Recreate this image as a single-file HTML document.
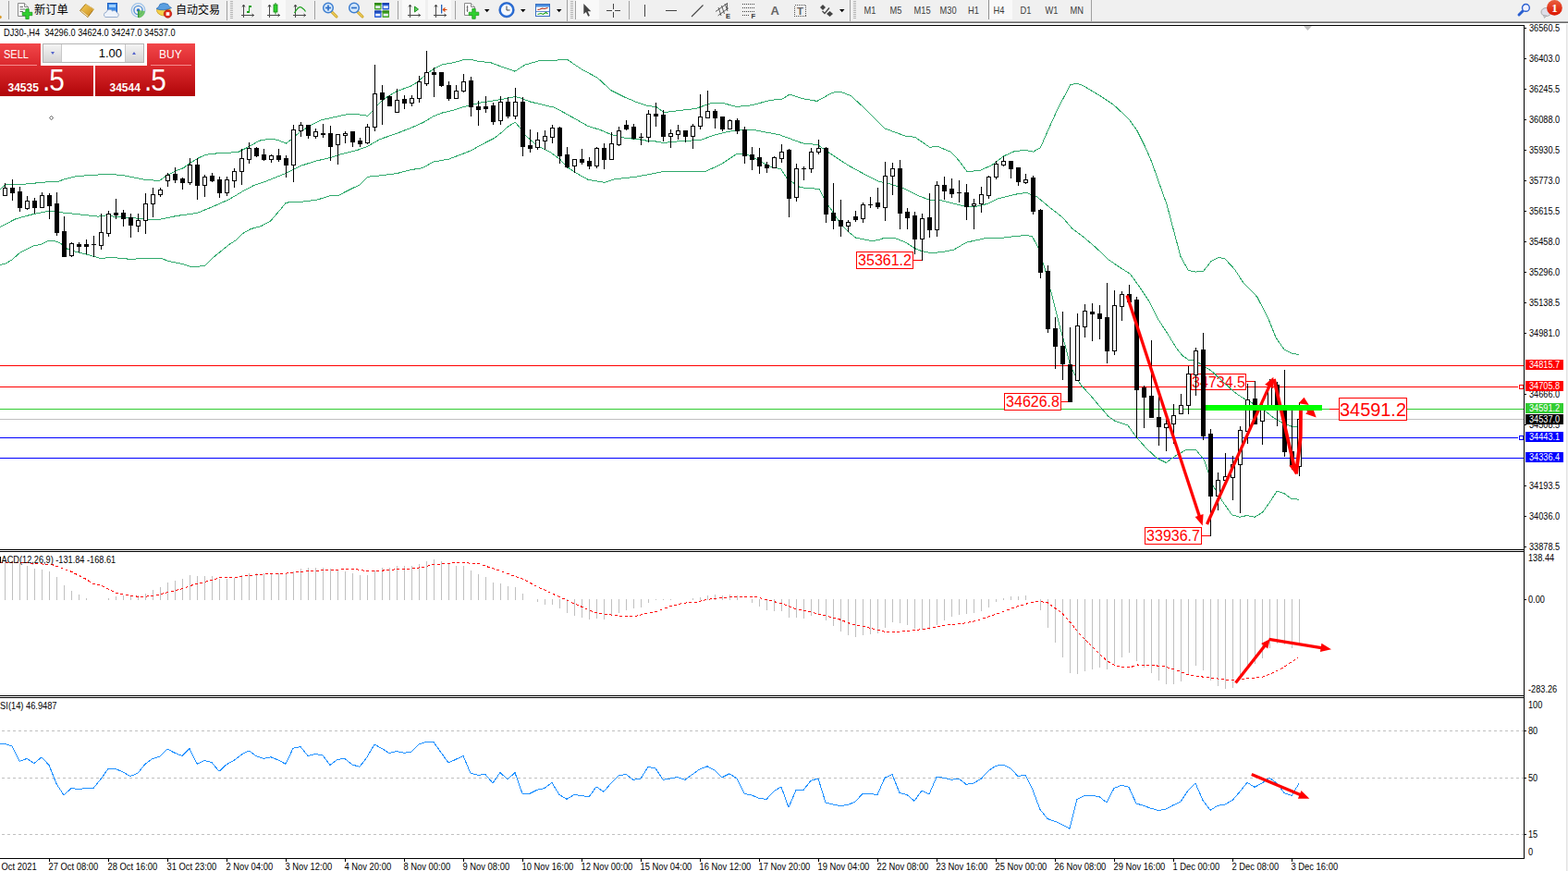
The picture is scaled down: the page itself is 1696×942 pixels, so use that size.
<!DOCTYPE html>
<html><head><meta charset="utf-8"><title>DJ30 H4</title>
<style>html,body{margin:0;padding:0;background:#fff}body{width:1696px;height:942px;position:relative;overflow:hidden;font-family:"Liberation Sans",sans-serif}</style>
</head><body>
<svg width="1696" height="942" viewBox="0 0 1696 942" style="position:absolute;left:0;top:0" font-family='"Liberation Sans", sans-serif'>
<rect x="0" y="25" width="1696" height="917" fill="#fff"/>
<g shape-rendering="crispEdges">
<rect x="0" y="395" width="1648" height="1" fill="#ff0000"/>
<rect x="0" y="418" width="1642" height="1" fill="#ff0000"/>
<rect x="0" y="442" width="1648" height="1" fill="#32cd32"/>
<rect x="0" y="453" width="1648" height="1" fill="#c0c0c0"/>
<rect x="0" y="473" width="1642" height="1" fill="#0000ff"/>
<rect x="0" y="495" width="1648" height="1" fill="#0000ff"/>
<rect x="1643.5" y="416.5" width="4" height="4" fill="#fff" stroke="#ff0000" stroke-width="1"/>
<rect x="1643.5" y="471.5" width="4" height="4" fill="#fff" stroke="#0000ff" stroke-width="1"/>
</g>
<g shape-rendering="crispEdges" stroke="#c0c0c0" stroke-width="1" stroke-dasharray="3,3">
<line x1="2" y1="790.5" x2="1648" y2="790.5"/>
<line x1="2" y1="841.5" x2="1648" y2="841.5"/>
<line x1="2" y1="902.5" x2="1648" y2="902.5"/>
</g>
<rect x="1288.5" y="404.5" width="59" height="17" fill="#fff" stroke="#ff0000" stroke-width="1" shape-rendering="crispEdges"/><text x="1318.0" y="413.0" font-size="16" fill="#ff0000" text-anchor="middle" dominant-baseline="central" font-family='"Liberation Sans", sans-serif'>34734.5</text>
<path d="M1348,412.5H1357.5" stroke="#ff0000" stroke-width="1" fill="none" shape-rendering="crispEdges"/>
<g shape-rendering="crispEdges" fill="#c0c0c0">
<rect x="5" y="607" width="1" height="42"/>
<rect x="13" y="608" width="1" height="41"/>
<rect x="21" y="609" width="1" height="40"/>
<rect x="29" y="612" width="1" height="37"/>
<rect x="37" y="615" width="1" height="34"/>
<rect x="45" y="616" width="1" height="33"/>
<rect x="53" y="618" width="1" height="31"/>
<rect x="61" y="624" width="1" height="25"/>
<rect x="69" y="633" width="1" height="16"/>
<rect x="77" y="639" width="1" height="10"/>
<rect x="85" y="643" width="1" height="6"/>
<rect x="93" y="647" width="1" height="2"/>
<rect x="117" y="647" width="1" height="2"/>
<rect x="125" y="645" width="1" height="4"/>
<rect x="133" y="644" width="1" height="5"/>
<rect x="141" y="644" width="1" height="5"/>
<rect x="149" y="644" width="1" height="5"/>
<rect x="157" y="642" width="1" height="7"/>
<rect x="165" y="638" width="1" height="11"/>
<rect x="173" y="635" width="1" height="14"/>
<rect x="181" y="630" width="1" height="19"/>
<rect x="189" y="628" width="1" height="21"/>
<rect x="197" y="626" width="1" height="23"/>
<rect x="205" y="622" width="1" height="27"/>
<rect x="213" y="623" width="1" height="26"/>
<rect x="221" y="623" width="1" height="26"/>
<rect x="229" y="623" width="1" height="26"/>
<rect x="237" y="626" width="1" height="23"/>
<rect x="245" y="626" width="1" height="23"/>
<rect x="253" y="625" width="1" height="24"/>
<rect x="261" y="622" width="1" height="27"/>
<rect x="269" y="620" width="1" height="29"/>
<rect x="277" y="620" width="1" height="29"/>
<rect x="285" y="620" width="1" height="29"/>
<rect x="293" y="620" width="1" height="29"/>
<rect x="301" y="620" width="1" height="29"/>
<rect x="309" y="620" width="1" height="29"/>
<rect x="317" y="618" width="1" height="31"/>
<rect x="325" y="615" width="1" height="34"/>
<rect x="333" y="614" width="1" height="35"/>
<rect x="341" y="614" width="1" height="35"/>
<rect x="349" y="614" width="1" height="35"/>
<rect x="357" y="615" width="1" height="34"/>
<rect x="365" y="617" width="1" height="32"/>
<rect x="373" y="618" width="1" height="31"/>
<rect x="381" y="620" width="1" height="29"/>
<rect x="389" y="622" width="1" height="27"/>
<rect x="397" y="622" width="1" height="27"/>
<rect x="405" y="617" width="1" height="32"/>
<rect x="413" y="614" width="1" height="35"/>
<rect x="421" y="614" width="1" height="35"/>
<rect x="429" y="612" width="1" height="37"/>
<rect x="437" y="612" width="1" height="37"/>
<rect x="445" y="612" width="1" height="37"/>
<rect x="453" y="610" width="1" height="39"/>
<rect x="461" y="607" width="1" height="42"/>
<rect x="469" y="605" width="1" height="44"/>
<rect x="477" y="607" width="1" height="42"/>
<rect x="485" y="610" width="1" height="39"/>
<rect x="493" y="612" width="1" height="37"/>
<rect x="501" y="612" width="1" height="37"/>
<rect x="509" y="617" width="1" height="32"/>
<rect x="517" y="621" width="1" height="28"/>
<rect x="525" y="624" width="1" height="25"/>
<rect x="533" y="630" width="1" height="19"/>
<rect x="541" y="631" width="1" height="18"/>
<rect x="549" y="634" width="1" height="15"/>
<rect x="557" y="635" width="1" height="14"/>
<rect x="565" y="642" width="1" height="7"/>
<rect x="581" y="648" width="1" height="3"/>
<rect x="589" y="648" width="1" height="6"/>
<rect x="597" y="648" width="1" height="6"/>
<rect x="605" y="648" width="1" height="10"/>
<rect x="613" y="648" width="1" height="15"/>
<rect x="621" y="648" width="1" height="18"/>
<rect x="629" y="648" width="1" height="20"/>
<rect x="637" y="648" width="1" height="22"/>
<rect x="645" y="648" width="1" height="21"/>
<rect x="653" y="648" width="1" height="22"/>
<rect x="661" y="648" width="1" height="18"/>
<rect x="669" y="648" width="1" height="15"/>
<rect x="677" y="648" width="1" height="12"/>
<rect x="685" y="648" width="1" height="10"/>
<rect x="693" y="648" width="1" height="9"/>
<rect x="701" y="648" width="1" height="4"/>
<rect x="709" y="648" width="1" height="1"/>
<rect x="717" y="648" width="1" height="1"/>
<rect x="725" y="648" width="1" height="1"/>
<rect x="749" y="647" width="1" height="2"/>
<rect x="757" y="646" width="1" height="3"/>
<rect x="765" y="644" width="1" height="5"/>
<rect x="773" y="643" width="1" height="6"/>
<rect x="781" y="644" width="1" height="5"/>
<rect x="789" y="643" width="1" height="6"/>
<rect x="797" y="644" width="1" height="5"/>
<rect x="813" y="648" width="1" height="4"/>
<rect x="821" y="648" width="1" height="8"/>
<rect x="829" y="648" width="1" height="12"/>
<rect x="837" y="648" width="1" height="13"/>
<rect x="845" y="648" width="1" height="13"/>
<rect x="853" y="648" width="1" height="20"/>
<rect x="861" y="648" width="1" height="20"/>
<rect x="869" y="648" width="1" height="21"/>
<rect x="877" y="648" width="1" height="18"/>
<rect x="885" y="648" width="1" height="16"/>
<rect x="893" y="648" width="1" height="23"/>
<rect x="901" y="648" width="1" height="29"/>
<rect x="909" y="648" width="1" height="35"/>
<rect x="917" y="648" width="1" height="39"/>
<rect x="925" y="648" width="1" height="41"/>
<rect x="933" y="648" width="1" height="39"/>
<rect x="941" y="648" width="1" height="38"/>
<rect x="949" y="648" width="1" height="37"/>
<rect x="957" y="648" width="1" height="31"/>
<rect x="965" y="648" width="1" height="25"/>
<rect x="973" y="648" width="1" height="26"/>
<rect x="981" y="648" width="1" height="28"/>
<rect x="989" y="648" width="1" height="32"/>
<rect x="997" y="648" width="1" height="33"/>
<rect x="1005" y="648" width="1" height="33"/>
<rect x="1013" y="648" width="1" height="28"/>
<rect x="1021" y="648" width="1" height="23"/>
<rect x="1029" y="648" width="1" height="19"/>
<rect x="1037" y="648" width="1" height="17"/>
<rect x="1045" y="648" width="1" height="16"/>
<rect x="1053" y="648" width="1" height="15"/>
<rect x="1061" y="648" width="1" height="13"/>
<rect x="1069" y="648" width="1" height="9"/>
<rect x="1077" y="648" width="1" height="3"/>
<rect x="1085" y="647" width="1" height="2"/>
<rect x="1093" y="645" width="1" height="4"/>
<rect x="1101" y="645" width="1" height="4"/>
<rect x="1109" y="644" width="1" height="5"/>
<rect x="1125" y="648" width="1" height="12"/>
<rect x="1133" y="648" width="1" height="31"/>
<rect x="1141" y="648" width="1" height="47"/>
<rect x="1149" y="648" width="1" height="63"/>
<rect x="1157" y="648" width="1" height="80"/>
<rect x="1165" y="648" width="1" height="81"/>
<rect x="1173" y="648" width="1" height="78"/>
<rect x="1181" y="648" width="1" height="76"/>
<rect x="1189" y="648" width="1" height="74"/>
<rect x="1197" y="648" width="1" height="76"/>
<rect x="1205" y="648" width="1" height="70"/>
<rect x="1213" y="648" width="1" height="63"/>
<rect x="1221" y="648" width="1" height="58"/>
<rect x="1229" y="648" width="1" height="67"/>
<rect x="1237" y="648" width="1" height="74"/>
<rect x="1245" y="648" width="1" height="80"/>
<rect x="1253" y="648" width="1" height="88"/>
<rect x="1261" y="648" width="1" height="92"/>
<rect x="1269" y="648" width="1" height="92"/>
<rect x="1277" y="648" width="1" height="89"/>
<rect x="1285" y="648" width="1" height="82"/>
<rect x="1293" y="648" width="1" height="72"/>
<rect x="1301" y="648" width="1" height="77"/>
<rect x="1309" y="648" width="1" height="88"/>
<rect x="1317" y="648" width="1" height="94"/>
<rect x="1325" y="648" width="1" height="97"/>
<rect x="1333" y="648" width="1" height="96"/>
<rect x="1341" y="648" width="1" height="87"/>
<rect x="1349" y="648" width="1" height="76"/>
<rect x="1357" y="648" width="1" height="70"/>
<rect x="1365" y="648" width="1" height="64"/>
<rect x="1373" y="648" width="1" height="53"/>
<rect x="1381" y="648" width="1" height="48"/>
<rect x="1389" y="648" width="1" height="49"/>
<rect x="1397" y="648" width="1" height="53"/>
<rect x="1405" y="648" width="1" height="47"/>
</g>
<polyline points="0.0,608.5 25.0,608.5 37.5,609.3 57.5,611.0 75.0,617.3 92.5,626.0 100.0,631.0 110.0,633.5 125.0,641.0 135.0,643.5 150.0,645.3 165.0,644.8 180.0,641.0 195.0,637.3 207.5,633.0 220.0,629.8 230.0,627.3 237.5,624.8 255.0,624.3 270.0,622.3 285.0,621.0 305.0,620.5 320.0,619.0 332.5,617.8 345.0,617.3 350.0,616.0 365.0,616.5 375.0,615.3 385.0,615.3 390.0,616.8 405.0,617.8 426.5,616.0 449.0,614.8 459.0,613.0 469.0,610.5 486.5,609.3 494.0,608.0 519.0,610.0 529.0,613.5 541.5,617.3 554.0,622.3 566.5,626.5 579.0,633.5 594.0,640.5 609.0,647.3 621.5,653.0 631.5,657.3 644.0,662.8 659.0,664.8 674.0,666.5 689.0,666.0 699.0,663.5 711.5,661.0 724.0,656.0 739.0,652.3 754.0,651.0 764.0,648.5 779.0,646.8 794.0,645.5 816.5,645.5 829.0,648.5 848.0,653.5 860.5,658.5 878.0,662.3 893.0,666.0 908.0,669.8 920.5,674.8 933.0,677.3 948.0,681.0 958.0,683.5 968.0,683.5 983.0,682.3 998.0,680.5 1013.0,678.0 1028.0,675.5 1043.0,674.0 1058.0,671.0 1068.0,667.3 1083.0,662.3 1098.0,656.5 1110.5,653.0 1123.0,650.5 1133.0,651.5 1140.5,657.3 1148.0,662.3 1158.0,673.5 1168.0,686.0 1180.5,698.5 1193.0,711.0 1203.0,718.5 1213.0,721.5 1223.0,721.5 1230.5,719.0 1245.5,719.3 1260.0,721.0 1272.5,724.8 1285.0,729.8 1302.5,732.3 1320.0,734.3 1335.0,736.0 1347.5,734.0 1365.0,732.3 1375.0,728.5 1387.5,722.3 1397.5,715.5 1403.8,711.5" fill="none" stroke="#ff0000" stroke-width="1" stroke-dasharray="3,2.5" shape-rendering="crispEdges"/>
<polyline points="0.0,805.0 5.0,804.3 13.0,807.0 21.0,823.3 29.0,820.5 37.0,825.5 45.0,818.8 53.0,827.5 61.0,847.5 69.0,860.0 77.0,852.5 85.0,853.5 93.0,852.5 101.0,852.5 109.0,842.5 117.0,831.5 125.0,831.5 133.0,835.0 141.0,839.5 149.0,836.3 157.0,826.3 165.0,820.5 173.0,818.3 181.0,810.0 189.0,814.3 197.0,817.5 205.0,809.5 213.0,826.3 221.0,822.5 229.0,824.5 237.0,834.3 245.0,826.8 253.0,822.5 261.0,816.3 269.0,811.8 277.0,817.5 285.0,820.5 293.0,818.8 301.0,822.0 309.0,826.3 317.0,809.3 325.0,807.5 333.0,817.5 341.0,815.5 349.0,816.8 357.0,827.5 365.0,821.3 373.0,820.5 381.0,827.0 389.0,829.3 397.0,818.8 405.0,805.0 413.0,809.5 421.0,814.5 429.0,812.5 437.0,814.3 445.0,813.3 453.0,805.0 461.0,802.5 469.0,802.5 477.0,813.8 485.0,825.0 493.0,821.3 501.0,817.5 509.0,836.3 517.0,838.3 525.0,837.5 533.0,847.0 541.0,835.5 549.0,843.0 557.0,835.5 565.0,858.3 573.0,858.3 581.0,854.3 589.0,852.5 597.0,846.5 605.0,859.5 613.0,864.3 621.0,859.5 629.0,860.5 637.0,862.0 645.0,850.8 653.0,856.3 661.0,847.0 669.0,838.8 677.0,837.5 685.0,843.3 693.0,842.0 701.0,829.5 709.0,830.8 717.0,843.3 725.0,842.0 733.0,840.5 741.0,843.5 749.0,837.5 757.0,831.8 765.0,828.8 773.0,833.0 781.0,840.8 789.0,836.8 797.0,842.0 805.0,858.3 813.0,860.0 821.0,863.3 829.0,864.5 837.0,855.8 845.0,850.8 853.0,873.3 861.0,854.5 869.0,854.5 877.0,844.3 885.0,842.0 893.0,868.0 901.0,870.0 909.0,871.5 917.0,870.5 925.0,867.0 933.0,858.5 941.0,858.5 949.0,859.5 957.0,841.3 965.0,837.5 973.0,857.5 981.0,859.5 989.0,866.3 997.0,855.0 1005.0,859.0 1013.0,840.3 1021.0,841.3 1029.0,843.3 1037.0,842.0 1045.0,848.3 1053.0,847.0 1061.0,842.5 1069.0,833.8 1077.0,828.3 1085.0,827.0 1093.0,830.8 1101.0,839.5 1109.0,838.3 1117.0,854.3 1125.0,875.5 1133.0,885.5 1141.0,888.3 1149.0,891.8 1157.0,896.3 1165.0,864.5 1173.0,860.5 1181.0,860.5 1189.0,861.5 1197.0,868.0 1205.0,852.5 1213.0,849.3 1221.0,851.3 1229.0,869.0 1237.0,871.3 1245.0,874.3 1253.0,876.5 1261.0,875.0 1269.0,870.8 1277.0,867.0 1285.0,855.0 1293.0,847.0 1301.0,865.5 1309.0,876.3 1317.0,871.3 1325.0,870.0 1333.0,865.5 1341.0,856.3 1349.0,846.3 1357.0,851.3 1365.0,847.0 1373.0,841.3 1381.0,847.0 1389.0,857.5 1397.0,860.5 1405.0,847.5" fill="none" stroke="#1e90ff" stroke-width="1" shape-rendering="crispEdges"/>
<polyline points="0.0,204.6 6.6,199.2 21.5,199.7 49.7,196.9 62.9,196.4 69.5,193.9 82.8,190.6 99.3,189.4 115.9,188.4 132.5,189.4 140.7,191.1 154.0,193.9 165.6,195.0 173.0,195.0 180.5,189.7 190.4,184.8 198.7,181.5 205.3,176.5 213.6,171.5 221.9,167.4 231.8,166.1 248.3,165.2 258.3,164.1 268.2,159.1 274.0,156.0 279.9,152.3 291.5,150.2 299.8,151.3 309.4,155.1 314.7,151.0 324.6,142.7 336.2,135.3 347.8,129.8 362.7,126.5 377.6,123.2 389.2,124.0 397.5,125.3 402.5,120.4 410.7,111.3 419.0,104.6 428.9,98.8 443.8,93.4 452.1,88.4 460.4,80.6 468.7,74.8 478.6,69.9 491.9,67.4 501.8,64.6 510.0,64.6 518.3,66.6 529.9,67.4 540.0,71.2 557.0,77.2 567.6,70.2 582.5,65.9 597.3,65.5 613.2,64.2 629.2,75.0 646.1,84.0 661.0,97.8 675.9,105.2 688.6,110.5 701.3,114.7 709.8,115.4 718.3,121.7 731.0,120.0 752.3,117.5 769.2,111.6 782.0,111.6 796.8,115.4 813.8,113.7 832.9,108.4 845.7,107.3 854.2,102.0 869.0,106.9 883.9,109.4 900.2,100.2 909.1,99.1 920.3,103.6 933.8,115.9 947.2,129.4 957.3,139.0 978.6,146.9 989.8,148.4 1005.5,159.2 1014.4,158.5 1027.9,164.1 1036.8,173.1 1045.8,185.4 1059.3,184.7 1072.7,178.7 1086.1,168.6 1097.3,163.7 1108.5,162.3 1117.5,164.1 1125.4,159.6 1133.2,141.7 1144.4,117.1 1157.8,91.7 1164.6,90.2 1171.3,92.4 1189.2,103.2 1204.9,113.7 1220.6,128.3 1229.5,140.6 1238.5,158.5 1245.6,174.9 1253.8,198.1 1262.1,221.3 1270.4,252.7 1277.0,277.5 1285.3,292.5 1293.6,294.1 1301.9,293.0 1310.1,282.5 1318.4,278.4 1325.0,280.0 1335.0,290.8 1344.9,305.7 1353.2,314.0 1360.0,321.5 1372.0,345.0 1380.0,365.0 1389.0,378.0 1397.0,382.0 1404.9,383.5" fill="none" stroke="#2fa96c" stroke-width="1" shape-rendering="crispEdges"/>
<polyline points="0.0,245.7 16.6,236.9 33.1,232.3 53.0,228.1 58.0,228.1 62.9,229.5 82.8,231.5 106.0,234.1 115.9,232.8 124.2,234.4 140.7,235.3 157.3,237.3 173.0,237.3 190.4,233.6 213.6,230.3 231.8,222.8 248.3,215.4 264.9,205.5 275.0,200.3 286.6,196.5 309.4,187.4 324.6,179.6 341.2,174.2 357.7,170.5 369.3,166.7 385.9,162.6 397.5,158.4 410.7,150.7 428.9,144.4 443.8,138.6 457.1,132.8 468.7,125.8 478.6,122.0 491.9,118.7 501.8,115.4 510.0,113.7 518.3,111.3 529.9,109.6 541.5,107.6 550.0,106.0 557.4,104.6 564.8,106.6 573.1,109.9 589.7,114.0 599.6,116.2 609.5,121.5 622.8,128.9 636.0,136.4 649.3,140.5 660.9,145.5 670.8,147.9 677.4,149.6 689.0,150.4 699.0,152.1 708.9,152.9 718.0,154.6 725.4,153.4 738.7,152.6 758.5,151.3 771.8,146.3 788.3,142.2 803.2,140.2 815.0,140.5 843.1,145.8 868.0,154.9 884.5,156.6 896.1,164.8 917.6,178.9 934.2,188.0 950.7,196.3 959.0,197.9 975.6,202.9 992.1,211.2 1005.4,216.2 1018.6,217.0 1041.8,222.8 1055.0,223.6 1068.3,220.3 1078.2,215.3 1096.6,210.5 1109.8,208.3 1121.4,212.6 1134.6,223.7 1149.5,235.3 1159.5,246.9 1172.7,256.9 1186.0,268.4 1199.2,280.9 1212.5,290.0 1222.4,296.2 1232.3,309.9 1242.3,324.8 1252.2,344.6 1262.1,359.5 1272.1,376.1 1278.7,384.4 1285.3,389.0 1293.6,390.2 1301.9,396.0 1310.1,400.9 1322.0,412.0 1335.0,424.1 1344.9,430.7 1360.0,439.0 1368.0,444.1 1377.1,451.6 1388.7,458.2 1397.0,461.2 1404.9,461.4" fill="none" stroke="#2fa96c" stroke-width="1" shape-rendering="crispEdges"/>
<polyline points="0.0,286.6 6.6,284.9 13.2,280.8 21.5,273.3 36.4,265.9 44.7,264.2 53.0,260.1 58.0,260.1 64.6,262.6 72.8,269.2 82.8,272.5 99.3,276.7 109.3,279.6 119.2,278.3 140.7,280.3 157.3,279.5 173.8,279.1 182.1,282.5 198.7,285.8 205.3,288.2 215.2,288.2 221.9,287.1 231.8,277.5 248.3,264.2 254.8,260.0 262.7,252.4 271.2,247.6 281.8,244.9 292.5,239.1 296.7,234.3 303.1,226.9 308.9,219.7 313.7,218.4 326.4,218.2 342.4,216.3 356.2,212.0 365.7,211.5 377.4,205.6 389.1,199.8 397.6,191.3 410.7,189.9 428.9,187.7 443.8,183.8 457.1,181.6 468.7,175.0 485.2,172.2 501.8,165.9 510.0,162.6 521.7,156.0 534.9,149.3 543.2,142.7 550.0,136.4 557.4,132.2 561.5,137.2 568.1,146.3 581.4,157.9 596.3,165.3 606.2,172.8 612.8,180.2 622.8,186.9 636.0,194.3 654.2,197.3 664.2,194.0 689.0,191.0 715.5,186.0 755.2,185.7 763.5,185.2 780.0,177.7 796.6,166.5 804.9,166.5 810.0,168.1 820.0,173.1 831.5,179.7 844.8,183.0 851.4,193.0 864.6,202.1 872.9,203.7 886.2,204.2 892.8,217.8 901.0,229.4 909.3,242.6 917.6,250.9 925.9,257.2 942.5,260.5 950.7,259.5 955.7,257.5 969.0,257.9 980.5,262.5 988.8,268.3 997.1,271.6 1005.4,273.3 1017.0,272.9 1031.9,270.0 1045.1,262.2 1066.6,257.5 1080.0,257.7 1096.6,255.7 1109.8,254.4 1116.4,255.7 1123.0,267.6 1129.7,289.1 1133.0,302.0 1137.1,316.5 1146.2,352.9 1152.8,376.1 1157.8,396.0 1162.8,405.9 1169.4,416.7 1179.3,427.4 1187.6,437.4 1194.2,444.8 1198.3,449.9 1206.6,455.7 1219.8,459.8 1228.1,471.4 1239.7,484.7 1251.3,495.4 1261.2,500.4 1272.8,492.1 1282.7,486.7 1293.5,486.3 1302.6,497.9 1307.5,512.8 1312.5,526.1 1322.5,542.6 1332.4,556.7 1340.7,559.2 1348.9,557.5 1357.2,559.2 1365.5,554.2 1373.8,542.6 1381.2,531.0 1388.7,533.5 1397.0,539.6 1404.9,540.1" fill="none" stroke="#2fa96c" stroke-width="1" shape-rendering="crispEdges"/>
<g shape-rendering="crispEdges">
<rect x="5" y="198" width="1" height="14" fill="#000"/>
<rect x="3.5" y="203.5" width="4" height="8" fill="#fff" stroke="#000" stroke-width="1"/>
<rect x="13" y="194" width="1" height="23" fill="#000"/>
<rect x="11" y="203" width="5" height="6" fill="#000"/>
<rect x="21" y="202" width="1" height="27" fill="#000"/>
<rect x="19" y="207" width="5" height="18" fill="#000"/>
<rect x="29" y="212" width="1" height="15" fill="#000"/>
<rect x="27.5" y="217.5" width="4" height="8" fill="#fff" stroke="#000" stroke-width="1"/>
<rect x="37" y="214" width="1" height="17" fill="#000"/>
<rect x="35" y="217" width="5" height="8" fill="#000"/>
<rect x="45" y="208" width="1" height="17" fill="#000"/>
<rect x="43.5" y="211.5" width="4" height="13" fill="#fff" stroke="#000" stroke-width="1"/>
<rect x="53" y="209" width="1" height="28" fill="#000"/>
<rect x="51" y="211" width="5" height="12" fill="#000"/>
<rect x="61" y="208" width="1" height="47" fill="#000"/>
<rect x="59" y="220" width="5" height="32" fill="#000"/>
<rect x="69" y="234" width="1" height="44" fill="#000"/>
<rect x="67" y="250" width="5" height="28" fill="#000"/>
<rect x="77" y="262" width="1" height="16" fill="#000"/>
<rect x="75.5" y="263.5" width="4" height="13" fill="#fff" stroke="#000" stroke-width="1"/>
<rect x="85" y="262" width="1" height="11" fill="#000"/>
<rect x="83" y="264" width="5" height="3" fill="#000"/>
<rect x="93" y="259" width="1" height="16" fill="#000"/>
<rect x="91" y="264" width="5" height="3" fill="#000"/>
<rect x="101" y="255" width="1" height="23" fill="#000"/>
<rect x="99" y="264" width="5" height="1" fill="#000"/>
<rect x="109" y="231" width="1" height="39" fill="#000"/>
<rect x="107.5" y="251.5" width="4" height="14" fill="#fff" stroke="#000" stroke-width="1"/>
<rect x="117" y="228" width="1" height="28" fill="#000"/>
<rect x="115.5" y="231.5" width="4" height="21" fill="#fff" stroke="#000" stroke-width="1"/>
<rect x="125" y="215" width="1" height="22" fill="#000"/>
<rect x="123" y="230" width="5" height="3" fill="#000"/>
<rect x="133" y="227" width="1" height="18" fill="#000"/>
<rect x="131" y="230" width="5" height="7" fill="#000"/>
<rect x="141" y="231" width="1" height="26" fill="#000"/>
<rect x="139" y="235" width="5" height="9" fill="#000"/>
<rect x="149" y="231" width="1" height="20" fill="#000"/>
<rect x="147.5" y="238.5" width="4" height="6" fill="#fff" stroke="#000" stroke-width="1"/>
<rect x="157" y="209" width="1" height="44" fill="#000"/>
<rect x="155.5" y="220.5" width="4" height="18" fill="#fff" stroke="#000" stroke-width="1"/>
<rect x="165" y="203" width="1" height="32" fill="#000"/>
<rect x="163.5" y="210.5" width="4" height="10" fill="#fff" stroke="#000" stroke-width="1"/>
<rect x="173" y="203" width="1" height="10" fill="#000"/>
<rect x="171.5" y="205.5" width="4" height="5" fill="#fff" stroke="#000" stroke-width="1"/>
<rect x="181" y="187" width="1" height="15" fill="#000"/>
<rect x="179.5" y="189.5" width="4" height="6" fill="#fff" stroke="#000" stroke-width="1"/>
<rect x="189" y="181" width="1" height="17" fill="#000"/>
<rect x="187" y="188" width="5" height="7" fill="#000"/>
<rect x="197" y="192" width="1" height="13" fill="#000"/>
<rect x="195" y="193" width="5" height="5" fill="#000"/>
<rect x="205" y="171" width="1" height="29" fill="#000"/>
<rect x="203.5" y="178.5" width="4" height="19" fill="#fff" stroke="#000" stroke-width="1"/>
<rect x="213" y="171" width="1" height="45" fill="#000"/>
<rect x="211" y="178" width="5" height="23" fill="#000"/>
<rect x="221" y="189" width="1" height="24" fill="#000"/>
<rect x="219.5" y="191.5" width="4" height="9" fill="#fff" stroke="#000" stroke-width="1"/>
<rect x="229" y="187" width="1" height="10" fill="#000"/>
<rect x="227" y="190" width="5" height="6" fill="#000"/>
<rect x="237" y="191" width="1" height="23" fill="#000"/>
<rect x="235" y="194" width="5" height="15" fill="#000"/>
<rect x="245" y="191" width="1" height="21" fill="#000"/>
<rect x="243.5" y="194.5" width="4" height="14" fill="#fff" stroke="#000" stroke-width="1"/>
<rect x="253" y="182" width="1" height="21" fill="#000"/>
<rect x="251.5" y="185.5" width="4" height="10" fill="#fff" stroke="#000" stroke-width="1"/>
<rect x="261" y="161" width="1" height="39" fill="#000"/>
<rect x="259.5" y="171.5" width="4" height="14" fill="#fff" stroke="#000" stroke-width="1"/>
<rect x="269" y="154" width="1" height="23" fill="#000"/>
<rect x="267.5" y="160.5" width="4" height="12" fill="#fff" stroke="#000" stroke-width="1"/>
<rect x="277" y="159" width="1" height="11" fill="#000"/>
<rect x="275" y="160" width="5" height="9" fill="#000"/>
<rect x="285" y="161" width="1" height="13" fill="#000"/>
<rect x="283" y="167" width="5" height="6" fill="#000"/>
<rect x="293" y="167" width="1" height="9" fill="#000"/>
<rect x="291.5" y="168.5" width="4" height="4" fill="#fff" stroke="#000" stroke-width="1"/>
<rect x="301" y="161" width="1" height="14" fill="#000"/>
<rect x="299" y="168" width="5" height="5" fill="#000"/>
<rect x="309" y="168" width="1" height="24" fill="#000"/>
<rect x="307" y="171" width="5" height="8" fill="#000"/>
<rect x="317" y="135" width="1" height="62" fill="#000"/>
<rect x="315.5" y="140.5" width="4" height="38" fill="#fff" stroke="#000" stroke-width="1"/>
<rect x="325" y="132" width="1" height="16" fill="#000"/>
<rect x="323.5" y="135.5" width="4" height="6" fill="#fff" stroke="#000" stroke-width="1"/>
<rect x="333" y="135" width="1" height="15" fill="#000"/>
<rect x="331" y="135" width="5" height="12" fill="#000"/>
<rect x="341" y="139" width="1" height="11" fill="#000"/>
<rect x="339.5" y="142.5" width="4" height="5" fill="#fff" stroke="#000" stroke-width="1"/>
<rect x="349" y="134" width="1" height="15" fill="#000"/>
<rect x="347" y="144" width="5" height="2" fill="#000"/>
<rect x="357" y="136" width="1" height="38" fill="#000"/>
<rect x="355" y="144" width="5" height="15" fill="#000"/>
<rect x="365" y="145" width="1" height="33" fill="#000"/>
<rect x="363.5" y="145.5" width="4" height="11" fill="#fff" stroke="#000" stroke-width="1"/>
<rect x="373" y="142" width="1" height="13" fill="#000"/>
<rect x="371.5" y="144.5" width="4" height="2" fill="#fff" stroke="#000" stroke-width="1"/>
<rect x="381" y="142" width="1" height="17" fill="#000"/>
<rect x="379" y="142" width="5" height="12" fill="#000"/>
<rect x="389" y="149" width="1" height="10" fill="#000"/>
<rect x="387" y="152" width="5" height="4" fill="#000"/>
<rect x="397" y="134" width="1" height="22" fill="#000"/>
<rect x="395.5" y="137.5" width="4" height="17" fill="#fff" stroke="#000" stroke-width="1"/>
<rect x="405" y="70" width="1" height="72" fill="#000"/>
<rect x="403.5" y="101.5" width="4" height="36" fill="#fff" stroke="#000" stroke-width="1"/>
<rect x="413" y="92" width="1" height="43" fill="#000"/>
<rect x="411" y="100" width="5" height="8" fill="#000"/>
<rect x="421" y="103" width="1" height="12" fill="#000"/>
<rect x="419" y="104" width="5" height="11" fill="#000"/>
<rect x="429" y="96" width="1" height="26" fill="#000"/>
<rect x="427.5" y="108.5" width="4" height="13" fill="#fff" stroke="#000" stroke-width="1"/>
<rect x="437" y="103" width="1" height="15" fill="#000"/>
<rect x="435" y="107" width="5" height="5" fill="#000"/>
<rect x="445" y="103" width="1" height="12" fill="#000"/>
<rect x="443.5" y="106.5" width="4" height="5" fill="#fff" stroke="#000" stroke-width="1"/>
<rect x="453" y="82" width="1" height="29" fill="#000"/>
<rect x="451.5" y="88.5" width="4" height="18" fill="#fff" stroke="#000" stroke-width="1"/>
<rect x="461" y="55" width="1" height="38" fill="#000"/>
<rect x="459.5" y="78.5" width="4" height="12" fill="#fff" stroke="#000" stroke-width="1"/>
<rect x="469" y="73" width="1" height="32" fill="#000"/>
<rect x="467" y="78" width="5" height="3" fill="#000"/>
<rect x="477" y="78" width="1" height="16" fill="#000"/>
<rect x="475" y="78" width="5" height="15" fill="#000"/>
<rect x="485" y="88" width="1" height="21" fill="#000"/>
<rect x="483" y="92" width="5" height="15" fill="#000"/>
<rect x="493" y="92" width="1" height="15" fill="#000"/>
<rect x="491.5" y="98.5" width="4" height="8" fill="#fff" stroke="#000" stroke-width="1"/>
<rect x="501" y="80" width="1" height="20" fill="#000"/>
<rect x="499.5" y="88.5" width="4" height="10" fill="#fff" stroke="#000" stroke-width="1"/>
<rect x="509" y="83" width="1" height="43" fill="#000"/>
<rect x="507" y="87" width="5" height="29" fill="#000"/>
<rect x="517" y="109" width="1" height="27" fill="#000"/>
<rect x="515" y="115" width="5" height="4" fill="#000"/>
<rect x="525" y="104" width="1" height="18" fill="#000"/>
<rect x="523" y="115" width="5" height="3" fill="#000"/>
<rect x="533" y="111" width="1" height="24" fill="#000"/>
<rect x="531" y="114" width="5" height="18" fill="#000"/>
<rect x="541" y="104" width="1" height="31" fill="#000"/>
<rect x="539.5" y="110.5" width="4" height="20" fill="#fff" stroke="#000" stroke-width="1"/>
<rect x="549" y="105" width="1" height="23" fill="#000"/>
<rect x="547" y="110" width="5" height="16" fill="#000"/>
<rect x="557" y="95" width="1" height="34" fill="#000"/>
<rect x="555.5" y="110.5" width="4" height="15" fill="#fff" stroke="#000" stroke-width="1"/>
<rect x="565" y="105" width="1" height="64" fill="#000"/>
<rect x="563" y="110" width="5" height="49" fill="#000"/>
<rect x="573" y="140" width="1" height="25" fill="#000"/>
<rect x="571" y="157" width="5" height="4" fill="#000"/>
<rect x="581" y="143" width="1" height="19" fill="#000"/>
<rect x="579.5" y="151.5" width="4" height="8" fill="#fff" stroke="#000" stroke-width="1"/>
<rect x="589" y="141" width="1" height="21" fill="#000"/>
<rect x="587.5" y="147.5" width="4" height="5" fill="#fff" stroke="#000" stroke-width="1"/>
<rect x="597" y="135" width="1" height="20" fill="#000"/>
<rect x="595.5" y="138.5" width="4" height="10" fill="#fff" stroke="#000" stroke-width="1"/>
<rect x="605" y="137" width="1" height="40" fill="#000"/>
<rect x="603" y="138" width="5" height="31" fill="#000"/>
<rect x="613" y="159" width="1" height="23" fill="#000"/>
<rect x="611" y="167" width="5" height="14" fill="#000"/>
<rect x="621" y="172" width="1" height="15" fill="#000"/>
<rect x="619.5" y="172.5" width="4" height="7" fill="#fff" stroke="#000" stroke-width="1"/>
<rect x="629" y="161" width="1" height="17" fill="#000"/>
<rect x="627" y="172" width="5" height="4" fill="#000"/>
<rect x="637" y="170" width="1" height="13" fill="#000"/>
<rect x="635" y="174" width="5" height="6" fill="#000"/>
<rect x="645" y="159" width="1" height="23" fill="#000"/>
<rect x="643.5" y="160.5" width="4" height="19" fill="#fff" stroke="#000" stroke-width="1"/>
<rect x="653" y="155" width="1" height="28" fill="#000"/>
<rect x="651" y="160" width="5" height="13" fill="#000"/>
<rect x="661" y="143" width="1" height="30" fill="#000"/>
<rect x="659.5" y="155.5" width="4" height="17" fill="#fff" stroke="#000" stroke-width="1"/>
<rect x="669" y="137" width="1" height="21" fill="#000"/>
<rect x="667.5" y="141.5" width="4" height="15" fill="#fff" stroke="#000" stroke-width="1"/>
<rect x="677" y="130" width="1" height="11" fill="#000"/>
<rect x="675" y="135" width="5" height="5" fill="#000"/>
<rect x="685" y="134" width="1" height="17" fill="#000"/>
<rect x="683" y="137" width="5" height="13" fill="#000"/>
<rect x="693" y="144" width="1" height="13" fill="#000"/>
<rect x="691" y="148" width="5" height="1" fill="#000"/>
<rect x="701" y="119" width="1" height="35" fill="#000"/>
<rect x="699.5" y="123.5" width="4" height="25" fill="#fff" stroke="#000" stroke-width="1"/>
<rect x="709" y="111" width="1" height="26" fill="#000"/>
<rect x="707" y="123" width="5" height="3" fill="#000"/>
<rect x="717" y="119" width="1" height="34" fill="#000"/>
<rect x="715" y="124" width="5" height="24" fill="#000"/>
<rect x="725" y="140" width="1" height="20" fill="#000"/>
<rect x="723.5" y="144.5" width="4" height="3" fill="#fff" stroke="#000" stroke-width="1"/>
<rect x="733" y="135" width="1" height="16" fill="#000"/>
<rect x="731.5" y="141.5" width="4" height="4" fill="#fff" stroke="#000" stroke-width="1"/>
<rect x="741" y="141" width="1" height="13" fill="#000"/>
<rect x="739" y="141" width="5" height="7" fill="#000"/>
<rect x="749" y="134" width="1" height="27" fill="#000"/>
<rect x="747.5" y="136.5" width="4" height="11" fill="#fff" stroke="#000" stroke-width="1"/>
<rect x="757" y="102" width="1" height="38" fill="#000"/>
<rect x="755.5" y="126.5" width="4" height="10" fill="#fff" stroke="#000" stroke-width="1"/>
<rect x="765" y="98" width="1" height="30" fill="#000"/>
<rect x="763.5" y="120.5" width="4" height="7" fill="#fff" stroke="#000" stroke-width="1"/>
<rect x="773" y="118" width="1" height="21" fill="#000"/>
<rect x="771" y="120" width="5" height="8" fill="#000"/>
<rect x="781" y="126" width="1" height="16" fill="#000"/>
<rect x="779" y="126" width="5" height="14" fill="#000"/>
<rect x="789" y="129" width="1" height="11" fill="#000"/>
<rect x="787.5" y="130.5" width="4" height="9" fill="#fff" stroke="#000" stroke-width="1"/>
<rect x="797" y="128" width="1" height="17" fill="#000"/>
<rect x="795" y="130" width="5" height="12" fill="#000"/>
<rect x="805" y="137" width="1" height="40" fill="#000"/>
<rect x="803" y="140" width="5" height="29" fill="#000"/>
<rect x="813" y="159" width="1" height="25" fill="#000"/>
<rect x="811" y="167" width="5" height="6" fill="#000"/>
<rect x="821" y="160" width="1" height="28" fill="#000"/>
<rect x="819" y="170" width="5" height="10" fill="#000"/>
<rect x="829" y="175" width="1" height="12" fill="#000"/>
<rect x="827" y="178" width="5" height="4" fill="#000"/>
<rect x="837" y="169" width="1" height="13" fill="#000"/>
<rect x="835.5" y="170.5" width="4" height="11" fill="#fff" stroke="#000" stroke-width="1"/>
<rect x="845" y="156" width="1" height="20" fill="#000"/>
<rect x="843.5" y="164.5" width="4" height="7" fill="#fff" stroke="#000" stroke-width="1"/>
<rect x="853" y="161" width="1" height="74" fill="#000"/>
<rect x="851" y="162" width="5" height="53" fill="#000"/>
<rect x="861" y="177" width="1" height="41" fill="#000"/>
<rect x="859.5" y="182.5" width="4" height="31" fill="#fff" stroke="#000" stroke-width="1"/>
<rect x="869" y="180" width="1" height="15" fill="#000"/>
<rect x="867" y="182" width="5" height="1" fill="#000"/>
<rect x="877" y="160" width="1" height="27" fill="#000"/>
<rect x="875.5" y="164.5" width="4" height="18" fill="#fff" stroke="#000" stroke-width="1"/>
<rect x="885" y="151" width="1" height="16" fill="#000"/>
<rect x="883.5" y="160.5" width="4" height="4" fill="#fff" stroke="#000" stroke-width="1"/>
<rect x="893" y="159" width="1" height="82" fill="#000"/>
<rect x="891" y="160" width="5" height="72" fill="#000"/>
<rect x="901" y="198" width="1" height="50" fill="#000"/>
<rect x="899" y="230" width="5" height="9" fill="#000"/>
<rect x="909" y="216" width="1" height="40" fill="#000"/>
<rect x="907" y="238" width="5" height="7" fill="#000"/>
<rect x="917" y="238" width="1" height="13" fill="#000"/>
<rect x="915.5" y="240.5" width="4" height="4" fill="#fff" stroke="#000" stroke-width="1"/>
<rect x="925" y="228" width="1" height="12" fill="#000"/>
<rect x="923" y="234" width="5" height="4" fill="#000"/>
<rect x="933" y="219" width="1" height="22" fill="#000"/>
<rect x="931.5" y="221.5" width="4" height="15" fill="#fff" stroke="#000" stroke-width="1"/>
<rect x="941" y="213" width="1" height="12" fill="#000"/>
<rect x="939" y="221" width="5" height="1" fill="#000"/>
<rect x="949" y="203" width="1" height="23" fill="#000"/>
<rect x="947" y="219" width="5" height="5" fill="#000"/>
<rect x="957" y="175" width="1" height="64" fill="#000"/>
<rect x="955.5" y="190.5" width="4" height="34" fill="#fff" stroke="#000" stroke-width="1"/>
<rect x="965" y="176" width="1" height="35" fill="#000"/>
<rect x="963.5" y="182.5" width="4" height="8" fill="#fff" stroke="#000" stroke-width="1"/>
<rect x="973" y="173" width="1" height="75" fill="#000"/>
<rect x="971" y="182" width="5" height="49" fill="#000"/>
<rect x="981" y="225" width="1" height="23" fill="#000"/>
<rect x="979" y="229" width="5" height="7" fill="#000"/>
<rect x="989" y="229" width="1" height="46" fill="#000"/>
<rect x="987" y="233" width="5" height="26" fill="#000"/>
<rect x="997" y="231" width="1" height="51" fill="#000"/>
<rect x="995.5" y="236.5" width="4" height="22" fill="#fff" stroke="#000" stroke-width="1"/>
<rect x="1005" y="209" width="1" height="48" fill="#000"/>
<rect x="1003" y="235" width="5" height="14" fill="#000"/>
<rect x="1013" y="196" width="1" height="60" fill="#000"/>
<rect x="1011.5" y="200.5" width="4" height="48" fill="#fff" stroke="#000" stroke-width="1"/>
<rect x="1021" y="191" width="1" height="25" fill="#000"/>
<rect x="1019" y="200" width="5" height="7" fill="#000"/>
<rect x="1029" y="193" width="1" height="21" fill="#000"/>
<rect x="1027" y="204" width="5" height="6" fill="#000"/>
<rect x="1037" y="195" width="1" height="24" fill="#000"/>
<rect x="1035" y="208" width="5" height="1" fill="#000"/>
<rect x="1045" y="199" width="1" height="39" fill="#000"/>
<rect x="1043" y="208" width="5" height="16" fill="#000"/>
<rect x="1053" y="215" width="1" height="33" fill="#000"/>
<rect x="1051.5" y="220.5" width="4" height="2" fill="#fff" stroke="#000" stroke-width="1"/>
<rect x="1061" y="202" width="1" height="28" fill="#000"/>
<rect x="1059.5" y="210.5" width="4" height="10" fill="#fff" stroke="#000" stroke-width="1"/>
<rect x="1069" y="190" width="1" height="25" fill="#000"/>
<rect x="1067.5" y="191.5" width="4" height="20" fill="#fff" stroke="#000" stroke-width="1"/>
<rect x="1077" y="174" width="1" height="20" fill="#000"/>
<rect x="1075.5" y="177.5" width="4" height="14" fill="#fff" stroke="#000" stroke-width="1"/>
<rect x="1085" y="169" width="1" height="11" fill="#000"/>
<rect x="1083.5" y="174.5" width="4" height="4" fill="#fff" stroke="#000" stroke-width="1"/>
<rect x="1093" y="174" width="1" height="19" fill="#000"/>
<rect x="1091" y="174" width="5" height="9" fill="#000"/>
<rect x="1101" y="181" width="1" height="20" fill="#000"/>
<rect x="1099" y="181" width="5" height="16" fill="#000"/>
<rect x="1109" y="188" width="1" height="11" fill="#000"/>
<rect x="1107.5" y="194.5" width="4" height="3" fill="#fff" stroke="#000" stroke-width="1"/>
<rect x="1117" y="190" width="1" height="42" fill="#000"/>
<rect x="1115" y="192" width="5" height="37" fill="#000"/>
<rect x="1125" y="226" width="1" height="75" fill="#000"/>
<rect x="1123" y="227" width="5" height="68" fill="#000"/>
<rect x="1133" y="287" width="1" height="73" fill="#000"/>
<rect x="1131" y="293" width="5" height="63" fill="#000"/>
<rect x="1141" y="343" width="1" height="56" fill="#000"/>
<rect x="1139" y="355" width="5" height="20" fill="#000"/>
<rect x="1149" y="337" width="1" height="74" fill="#000"/>
<rect x="1147" y="374" width="5" height="20" fill="#000"/>
<rect x="1157" y="354" width="1" height="81" fill="#000"/>
<rect x="1155" y="394" width="5" height="41" fill="#000"/>
<rect x="1165" y="339" width="1" height="73" fill="#000"/>
<rect x="1163.5" y="352.5" width="4" height="59" fill="#fff" stroke="#000" stroke-width="1"/>
<rect x="1173" y="329" width="1" height="36" fill="#000"/>
<rect x="1171.5" y="336.5" width="4" height="17" fill="#fff" stroke="#000" stroke-width="1"/>
<rect x="1181" y="328" width="1" height="41" fill="#000"/>
<rect x="1179" y="337" width="5" height="3" fill="#000"/>
<rect x="1189" y="330" width="1" height="37" fill="#000"/>
<rect x="1187" y="339" width="5" height="6" fill="#000"/>
<rect x="1197" y="306" width="1" height="87" fill="#000"/>
<rect x="1195" y="343" width="5" height="37" fill="#000"/>
<rect x="1205" y="314" width="1" height="70" fill="#000"/>
<rect x="1203.5" y="330.5" width="4" height="49" fill="#fff" stroke="#000" stroke-width="1"/>
<rect x="1213" y="315" width="1" height="32" fill="#000"/>
<rect x="1211.5" y="318.5" width="4" height="13" fill="#fff" stroke="#000" stroke-width="1"/>
<rect x="1221" y="308" width="1" height="19" fill="#000"/>
<rect x="1219" y="318" width="5" height="9" fill="#000"/>
<rect x="1229" y="321" width="1" height="153" fill="#000"/>
<rect x="1227" y="324" width="5" height="98" fill="#000"/>
<rect x="1237" y="417" width="1" height="46" fill="#000"/>
<rect x="1235" y="419" width="5" height="11" fill="#000"/>
<rect x="1245" y="368" width="1" height="84" fill="#000"/>
<rect x="1243" y="428" width="5" height="24" fill="#000"/>
<rect x="1253" y="429" width="1" height="53" fill="#000"/>
<rect x="1251" y="451" width="5" height="11" fill="#000"/>
<rect x="1261" y="447" width="1" height="41" fill="#000"/>
<rect x="1259.5" y="458.5" width="4" height="4" fill="#fff" stroke="#000" stroke-width="1"/>
<rect x="1269" y="437" width="1" height="43" fill="#000"/>
<rect x="1267.5" y="449.5" width="4" height="9" fill="#fff" stroke="#000" stroke-width="1"/>
<rect x="1277" y="426" width="1" height="22" fill="#000"/>
<rect x="1275.5" y="438.5" width="4" height="9" fill="#fff" stroke="#000" stroke-width="1"/>
<rect x="1285" y="396" width="1" height="52" fill="#000"/>
<rect x="1283.5" y="404.5" width="4" height="34" fill="#fff" stroke="#000" stroke-width="1"/>
<rect x="1293" y="376" width="1" height="52" fill="#000"/>
<rect x="1291.5" y="379.5" width="4" height="26" fill="#fff" stroke="#000" stroke-width="1"/>
<rect x="1301" y="360" width="1" height="116" fill="#000"/>
<rect x="1299" y="378" width="5" height="94" fill="#000"/>
<rect x="1309" y="464" width="1" height="116" fill="#000"/>
<rect x="1307" y="469" width="5" height="68" fill="#000"/>
<rect x="1317" y="511" width="1" height="41" fill="#000"/>
<rect x="1315.5" y="519.5" width="4" height="17" fill="#fff" stroke="#000" stroke-width="1"/>
<rect x="1325" y="490" width="1" height="30" fill="#000"/>
<rect x="1323.5" y="515.5" width="4" height="4" fill="#fff" stroke="#000" stroke-width="1"/>
<rect x="1333" y="493" width="1" height="48" fill="#000"/>
<rect x="1331.5" y="502.5" width="4" height="14" fill="#fff" stroke="#000" stroke-width="1"/>
<rect x="1341" y="461" width="1" height="94" fill="#000"/>
<rect x="1339.5" y="465.5" width="4" height="37" fill="#fff" stroke="#000" stroke-width="1"/>
<rect x="1349" y="415" width="1" height="65" fill="#000"/>
<rect x="1347.5" y="432.5" width="4" height="34" fill="#fff" stroke="#000" stroke-width="1"/>
<rect x="1357" y="412" width="1" height="47" fill="#000"/>
<rect x="1355" y="431" width="5" height="28" fill="#000"/>
<rect x="1365" y="436" width="1" height="45" fill="#000"/>
<rect x="1363.5" y="441.5" width="4" height="14" fill="#fff" stroke="#000" stroke-width="1"/>
<rect x="1373" y="410" width="1" height="32" fill="#000"/>
<rect x="1371.5" y="416.5" width="4" height="25" fill="#fff" stroke="#000" stroke-width="1"/>
<rect x="1381" y="413" width="1" height="48" fill="#000"/>
<rect x="1379" y="416" width="5" height="28" fill="#000"/>
<rect x="1389" y="400" width="1" height="94" fill="#000"/>
<rect x="1387" y="444" width="5" height="45" fill="#000"/>
<rect x="1397" y="444" width="1" height="64" fill="#000"/>
<rect x="1395" y="488" width="5" height="17" fill="#000"/>
<rect x="1405" y="435" width="1" height="80" fill="#000"/>
<rect x="1403.5" y="453.5" width="4" height="51" fill="#fff" stroke="#000" stroke-width="1"/>
</g>
<rect x="926.5" y="272.5" width="61" height="18" fill="#fff" stroke="#ff0000" stroke-width="1" shape-rendering="crispEdges"/><text x="957.0" y="281.5" font-size="16" fill="#ff0000" text-anchor="middle" dominant-baseline="central" font-family='"Liberation Sans", sans-serif'>35361.2</text>
<path d="M988,281.5H997" stroke="#ff0000" stroke-width="1" fill="none" shape-rendering="crispEdges"/>
<rect x="1086.5" y="425.5" width="61" height="18" fill="#fff" stroke="#ff0000" stroke-width="1" shape-rendering="crispEdges"/><text x="1117.0" y="434.5" font-size="16" fill="#ff0000" text-anchor="middle" dominant-baseline="central" font-family='"Liberation Sans", sans-serif'>34626.8</text>
<path d="M1148,434.5H1155" stroke="#ff0000" stroke-width="1" fill="none" shape-rendering="crispEdges"/>
<rect x="1238.5" y="570.5" width="61" height="18" fill="#fff" stroke="#ff0000" stroke-width="1" shape-rendering="crispEdges"/><text x="1269.0" y="579.5" font-size="16" fill="#ff0000" text-anchor="middle" dominant-baseline="central" font-family='"Liberation Sans", sans-serif'>33936.7</text>
<path d="M1300,579.5H1309" stroke="#ff0000" stroke-width="1" fill="none" shape-rendering="crispEdges"/>
<path d="M1438,442.5H1448" stroke="#ff0000" stroke-width="1" fill="none" shape-rendering="crispEdges"/>
<rect x="1448.5" y="430.5" width="73" height="24" fill="#fff" stroke="#ff0000" stroke-width="1" shape-rendering="crispEdges"/><text x="1485.0" y="442.5" font-size="19.9" fill="#ff0000" text-anchor="middle" dominant-baseline="central" font-family='"Liberation Sans", sans-serif'>34591.2</text>
<line x1="1219.0" y1="319.5" x2="1297.7" y2="559.5" stroke="#ff0000" stroke-width="3.3" stroke-linecap="butt"/><polygon points="1300.7,568.5 1292.6,559.1 1301.6,556.1" fill="#ff0000"/>
<line x1="1305.5" y1="567.0" x2="1373.5" y2="416.4" stroke="#ff0000" stroke-width="3.3" stroke-linecap="butt"/><polygon points="1377.4,407.7 1377.2,420.2 1368.1,416.1" fill="#ff0000"/>
<line x1="1378.0" y1="410.0" x2="1399.7" y2="504.2" stroke="#ff0000" stroke-width="3.7" stroke-linecap="butt"/><polygon points="1401.8,513.5 1394.3,503.4 1404.1,501.2" fill="#ff0000"/>
<polyline points="1402,512.5 1406.7,473 1407,440" fill="none" stroke="#ff0000" stroke-width="3.9" stroke-linejoin="round"/>
<polygon points="1410.5,429.8 1404.6,436.2 1415.8,438" fill="#ff0000"/>
<line x1="1411.5" y1="439.5" x2="1417.3" y2="445.2" stroke="#ff0000" stroke-width="4" stroke-linecap="butt"/><polygon points="1423.7,451.5 1412.2,447.5 1419.5,440.0" fill="#ff0000"/>
<rect x="1304" y="438" width="126" height="6" fill="#00ff00" shape-rendering="crispEdges"/>
<line x1="1336.5" y1="738.5" x2="1368.9" y2="697.3" stroke="#ff0000" stroke-width="3.3" stroke-linecap="butt"/><polygon points="1373.8,691.0 1371.2,701.6 1364.1,696.1" fill="#ff0000"/>
<line x1="1372.5" y1="691.3" x2="1430.6" y2="700.8" stroke="#ff0000" stroke-width="3.3" stroke-linecap="butt"/><polygon points="1440.0,702.3 1427.9,705.1 1429.4,695.8" fill="#ff0000"/>
<line x1="1353.8" y1="837.5" x2="1407.5" y2="860.1" stroke="#ff0000" stroke-width="3.3" stroke-linecap="butt"/><polygon points="1416.3,863.8 1403.9,863.7 1407.5,855.0" fill="#ff0000"/>
<g shape-rendering="crispEdges" fill="#000">
<rect x="0" y="27" width="1649" height="1"/>
<rect x="1648" y="27" width="1" height="902"/>
<rect x="0" y="594" width="1649" height="1"/>
<rect x="0" y="596" width="1649" height="1"/>
<rect x="0" y="752" width="1649" height="1"/>
<rect x="0" y="754" width="1649" height="1"/>
<rect x="0" y="928" width="1649" height="1"/>
<rect x="0" y="595" width="1648" height="1" fill="#fff"/>
<rect x="0" y="753" width="1648" height="1" fill="#fff"/>
<rect x="1649" y="30" width="2" height="1"/>
<rect x="1649" y="63" width="2" height="1"/>
<rect x="1649" y="96" width="2" height="1"/>
<rect x="1649" y="129" width="2" height="1"/>
<rect x="1649" y="162" width="2" height="1"/>
<rect x="1649" y="195" width="2" height="1"/>
<rect x="1649" y="228" width="2" height="1"/>
<rect x="1649" y="261" width="2" height="1"/>
<rect x="1649" y="294" width="2" height="1"/>
<rect x="1649" y="327" width="2" height="1"/>
<rect x="1649" y="360" width="2" height="1"/>
<rect x="1649" y="426" width="2" height="1"/>
<rect x="1649" y="459" width="2" height="1"/>
<rect x="1649" y="525" width="2" height="1"/>
<rect x="1649" y="558" width="2" height="1"/>
<rect x="1649" y="591" width="2" height="1"/>
<rect x="1649" y="648" width="2" height="1"/>
<rect x="1649" y="790" width="2" height="1"/>
<rect x="1649" y="841" width="2" height="1"/>
<rect x="1649" y="902" width="2" height="1"/>
<rect x="53" y="929" width="1" height="3"/>
<rect x="117" y="929" width="1" height="3"/>
<rect x="181" y="929" width="1" height="3"/>
<rect x="245" y="929" width="1" height="3"/>
<rect x="309" y="929" width="1" height="3"/>
<rect x="373" y="929" width="1" height="3"/>
<rect x="437" y="929" width="1" height="3"/>
<rect x="501" y="929" width="1" height="3"/>
<rect x="565" y="929" width="1" height="3"/>
<rect x="629" y="929" width="1" height="3"/>
<rect x="693" y="929" width="1" height="3"/>
<rect x="757" y="929" width="1" height="3"/>
<rect x="821" y="929" width="1" height="3"/>
<rect x="885" y="929" width="1" height="3"/>
<rect x="949" y="929" width="1" height="3"/>
<rect x="1013" y="929" width="1" height="3"/>
<rect x="1077" y="929" width="1" height="3"/>
<rect x="1141" y="929" width="1" height="3"/>
<rect x="1205" y="929" width="1" height="3"/>
<rect x="1269" y="929" width="1" height="3"/>
<rect x="1333" y="929" width="1" height="3"/>
<rect x="1397" y="929" width="1" height="3"/>
</g>
<g font-size="9.2px" fill="#000">
<text transform="translate(1654,34.2) scale(0.92,1)" font-size="10px">36560.5</text>
<text transform="translate(1654,67.2) scale(0.92,1)" font-size="10px">36403.0</text>
<text transform="translate(1654,100.1) scale(0.92,1)" font-size="10px">36245.5</text>
<text transform="translate(1654,133.1) scale(0.92,1)" font-size="10px">36088.0</text>
<text transform="translate(1654,166.1) scale(0.92,1)" font-size="10px">35930.5</text>
<text transform="translate(1654,199.0) scale(0.92,1)" font-size="10px">35773.0</text>
<text transform="translate(1654,232.0) scale(0.92,1)" font-size="10px">35615.5</text>
<text transform="translate(1654,265.0) scale(0.92,1)" font-size="10px">35458.0</text>
<text transform="translate(1654,298.0) scale(0.92,1)" font-size="10px">35296.0</text>
<text transform="translate(1654,330.9) scale(0.92,1)" font-size="10px">35138.5</text>
<text transform="translate(1654,363.9) scale(0.92,1)" font-size="10px">34981.0</text>
<text transform="translate(1654,429.8) scale(0.92,1)" font-size="10px">34666.0</text>
<text transform="translate(1654,462.8) scale(0.92,1)" font-size="10px">34508.5</text>
<text transform="translate(1654,528.8) scale(0.92,1)" font-size="10px">34193.5</text>
<text transform="translate(1654,561.7) scale(0.92,1)" font-size="10px">34036.0</text>
<text transform="translate(1654,594.7) scale(0.92,1)" font-size="10px">33878.5</text>
</g>
<rect x="1650" y="389" width="41" height="11" fill="#ff0000" shape-rendering="crispEdges"/>
<text transform="translate(1654,398.4) scale(0.92,1)" font-size="10px" fill="#fff">34815.7</text>
<rect x="1650" y="412" width="41" height="11" fill="#ff0000" shape-rendering="crispEdges"/>
<text transform="translate(1654,421.4) scale(0.92,1)" font-size="10px" fill="#fff">34705.8</text>
<rect x="1650" y="436" width="41" height="11" fill="#32cd32" shape-rendering="crispEdges"/>
<text transform="translate(1654,445.4) scale(0.92,1)" font-size="10px" fill="#fff">34591.2</text>
<rect x="1650" y="448" width="41" height="11" fill="#000000" shape-rendering="crispEdges"/>
<text transform="translate(1654,457.4) scale(0.92,1)" font-size="10px" fill="#fff">34537.0</text>
<rect x="1650" y="467" width="41" height="11" fill="#0000ff" shape-rendering="crispEdges"/>
<text transform="translate(1654,476.4) scale(0.92,1)" font-size="10px" fill="#fff">34443.1</text>
<rect x="1650" y="489" width="41" height="11" fill="#0000ff" shape-rendering="crispEdges"/>
<text transform="translate(1654,498.4) scale(0.92,1)" font-size="10px" fill="#fff">34336.4</text>
<g font-size="9.2px" fill="#000">
<text transform="translate(1653,607.0) scale(0.92,1)" font-size="10px">138.44</text>
<text transform="translate(1653,652.0) scale(0.92,1)" font-size="10px">0.00</text>
<text transform="translate(1653,749.0) scale(0.92,1)" font-size="10px">-283.26</text>
<text transform="translate(1653,765.5) scale(0.92,1)" font-size="10px">100</text>
<text transform="translate(1653,794.0) scale(0.92,1)" font-size="10px">80</text>
<text transform="translate(1653,845.0) scale(0.92,1)" font-size="10px">50</text>
<text transform="translate(1653,906.0) scale(0.92,1)" font-size="10px">15</text>
<text transform="translate(1653,925.0) scale(0.92,1)" font-size="10px">0</text>
<text transform="translate(-11.5,941) scale(0.94,1)" font-size="10px">26 Oct 2021</text>
<text transform="translate(52.5,941) scale(0.94,1)" font-size="10px">27 Oct 08:00</text>
<text transform="translate(116.5,941) scale(0.94,1)" font-size="10px">28 Oct 16:00</text>
<text transform="translate(180.5,941) scale(0.94,1)" font-size="10px">31 Oct 23:00</text>
<text transform="translate(244.5,941) scale(0.94,1)" font-size="10px">2 Nov 04:00</text>
<text transform="translate(308.5,941) scale(0.94,1)" font-size="10px">3 Nov 12:00</text>
<text transform="translate(372.5,941) scale(0.94,1)" font-size="10px">4 Nov 20:00</text>
<text transform="translate(436.5,941) scale(0.94,1)" font-size="10px">8 Nov 00:00</text>
<text transform="translate(500.5,941) scale(0.94,1)" font-size="10px">9 Nov 08:00</text>
<text transform="translate(564.5,941) scale(0.94,1)" font-size="10px">10 Nov 16:00</text>
<text transform="translate(628.5,941) scale(0.94,1)" font-size="10px">12 Nov 00:00</text>
<text transform="translate(692.5,941) scale(0.94,1)" font-size="10px">15 Nov 04:00</text>
<text transform="translate(756.5,941) scale(0.94,1)" font-size="10px">16 Nov 12:00</text>
<text transform="translate(820.5,941) scale(0.94,1)" font-size="10px">17 Nov 20:00</text>
<text transform="translate(884.5,941) scale(0.94,1)" font-size="10px">19 Nov 04:00</text>
<text transform="translate(948.5,941) scale(0.94,1)" font-size="10px">22 Nov 08:00</text>
<text transform="translate(1012.5,941) scale(0.94,1)" font-size="10px">23 Nov 16:00</text>
<text transform="translate(1076.5,941) scale(0.94,1)" font-size="10px">25 Nov 00:00</text>
<text transform="translate(1140.5,941) scale(0.94,1)" font-size="10px">26 Nov 08:00</text>
<text transform="translate(1204.5,941) scale(0.94,1)" font-size="10px">29 Nov 16:00</text>
<text transform="translate(1268.5,941) scale(0.94,1)" font-size="10px">1 Dec 00:00</text>
<text transform="translate(1332.5,941) scale(0.94,1)" font-size="10px">2 Dec 08:00</text>
<text transform="translate(1396.5,941) scale(0.94,1)" font-size="10px">3 Dec 16:00</text>
<text transform="translate(1.6,609) scale(0.92,1)" font-size="10px">ACD(12,26,9) -131.84 -168.61</text><rect x="0" y="602" width="1" height="7" fill="#000"/>
<text transform="translate(-6.6,767) scale(0.93,1)" font-size="10px">RSI(14) 46.9487</text>
<text transform="translate(4,38.5) scale(0.925,1)" font-size="10px">DJ30-,H4&#160; 34296.0 34624.0 34247.0 34537.0</text>
</g>
<polygon points="1410,28 1419,28 1414.5,33" fill="#c0c0c0"/>
<path d="M53.5,127.5L55.5,125.5L57.5,127.5L55.5,129.5Z" fill="none" stroke="#333" stroke-width="0.8"/>
<rect x="1694" y="25" width="1" height="917" fill="#e3e3e3" shape-rendering="crispEdges"/>
<rect x="1695" y="25" width="1" height="917" fill="#f0f0f0" shape-rendering="crispEdges"/>
</svg>

<div style="position:absolute;left:0;top:47px;width:211px;height:57px;font-family:"Liberation Sans",sans-serif">
 <div style="position:absolute;left:0;top:0;width:44px;height:25px;background:linear-gradient(#f2474a,#d9262b)"></div>
 <div style="position:absolute;left:159px;top:0;width:52px;height:25px;background:linear-gradient(#f2474a,#d9262b)"></div>
 <div style="position:absolute;left:0;top:24px;width:101px;height:33px;background:linear-gradient(#dc2a2e,#b00508)"></div>
 <div style="position:absolute;left:103px;top:24px;width:108px;height:33px;background:linear-gradient(#dc2a2e,#b00508)"></div>
 <div style="position:absolute;left:0;top:23px;width:40px;height:1px;background:#f58a8c"></div>
 <div style="position:absolute;left:163px;top:23px;width:44px;height:1px;background:#f58a8c"></div>
 <div style="position:absolute;left:4px;top:5px;font-size:12.5px;color:#fff;transform:scaleX(0.88);transform-origin:0 0">SELL</div>
 <div style="position:absolute;left:172px;top:5px;font-size:12.5px;color:#fff;transform:scaleX(0.96);transform-origin:0 0">BUY</div>
 <div style="position:absolute;left:46px;top:0;width:110px;height:21px;background:#fff;border:1px solid #b5b5b5;box-sizing:border-box"></div>
 <div style="position:absolute;left:47px;top:1px;width:20px;height:19px;background:linear-gradient(#f4f4f4,#d4d4d4);border-right:1px solid #c8c8c8;box-sizing:border-box"></div>
 <div style="position:absolute;left:135px;top:1px;width:20px;height:19px;background:linear-gradient(#f4f4f4,#d4d4d4);border-left:1px solid #c8c8c8;box-sizing:border-box"></div>
 <div style="position:absolute;left:54.5px;top:9px;width:0;height:0;border-left:2.5px solid transparent;border-right:2.5px solid transparent;border-top:3px solid #5565cc"></div>
 <div style="position:absolute;left:142.5px;top:8.5px;width:0;height:0;border-left:2.5px solid transparent;border-right:2.5px solid transparent;border-bottom:3px solid #5565cc"></div>
 <div style="position:absolute;left:68px;top:3px;width:64px;text-align:right;font-size:13px;color:#000">1.00</div>
 <div style="position:absolute;left:8.5px;top:41px;font-size:12px;font-weight:bold;color:#fff">34535</div>
 <div style="position:absolute;left:46px;top:21px;font-size:33px;color:#fff;letter-spacing:-1px;transform:scaleX(0.9);transform-origin:0 0">.5</div>
 <div style="position:absolute;left:118.5px;top:41px;font-size:12px;font-weight:bold;color:#fff">34544</div>
 <div style="position:absolute;left:156px;top:21px;font-size:33px;color:#fff;letter-spacing:-1px;transform:scaleX(0.9);transform-origin:0 0">.5</div>
</div>

<svg width="1696" height="26" viewBox="0 0 1696 26" style="position:absolute;left:0;top:0" font-family='"Liberation Sans", sans-serif'>
<rect x="0" y="0" width="1696" height="23" fill="#f0f0f0"/>
<rect x="0" y="23" width="1696" height="1" fill="#a0a0a0"/><rect x="0" y="24" width="1696" height="1" fill="#696969"/><rect x="0" y="25" width="1696" height="1" fill="#fff"/>
<circle cx="0" cy="18.5" r="1.8" fill="#d89a2a"/>
<rect x="9" y="1" width="1" height="20" fill="#a0a0a0" shape-rendering="crispEdges"/>
<path d="M19.5,3.5H26.5L30.5,7.5V17.5H19.5Z" fill="#fff" stroke="#8a8a8a" stroke-width="1"/>
<path d="M26.5,3.5V7.5H30.5" fill="#e8e8e8" stroke="#8a8a8a" stroke-width="1"/>
<path d="M21.5,7.5H25M21.5,10H27M21.5,12.5H25" stroke="#6a6a6a" stroke-width="1"/>
<path d="M27.8,9.800H31.2V13.300H34.8V16.700H31.2V20.500H27.8V16.700H24.2V13.300H27.8Z" fill="#2fd02f" stroke="#1a9a1a" stroke-width="0.8"/>
<defs><linearGradient id="bk" x1="0" y1="0" x2="1" y2="1"><stop offset="0" stop-color="#f6cf5a"/><stop offset="1" stop-color="#c98a1c"/></linearGradient></defs>
<path d="M86.5,11.5L92.5,4.500L101.5,10L95,18.5Z" fill="url(#bk)" stroke="#9a6a12" stroke-width="0.9"/>
<path d="M86.5,11.5L95,18.5L95.5,17L88,11Z" fill="#fff3c8" stroke="#b07d18" stroke-width="0.5"/>
<path d="M92.5,4.5L101.5,10L100.5,11.5" fill="none" stroke="#f6d988" stroke-width="0.8"/>
<rect x="116.5" y="3.5" width="10" height="11" fill="#3d8be8" stroke="#1f5fc0" stroke-width="1"/>
<rect x="118" y="5" width="7" height="3" fill="#9fd0ff"/>
<path d="M114,18.5a2.8,2.8 0 0 1 1,-5.3a3.6,3.6 0 0 1 6.6,-1.2a3,3 0 0 1 4.6,1.6a2.6,2.6 0 0 1 0.6,4.9Z" fill="#eef3fb" stroke="#8ea6c8" stroke-width="0.9"/>
<circle cx="149.5" cy="11" r="7.3" fill="none" stroke="#9fc3e8" stroke-width="1.3"/>
<circle cx="149.5" cy="11" r="4.6" fill="none" stroke="#4f8fd8" stroke-width="1.4"/>
<path d="M149.5,11L150,19.5A8,8 0 0 0 156.8,12Z" fill="#5fbf4f" opacity="0.85"/>
<circle cx="149.5" cy="11" r="1.8" fill="#2a6fd0"/>
<rect x="149" y="11" width="1.4" height="8" fill="#3a9a3a"/>
<ellipse cx="177" cy="11.5" rx="7.5" ry="4.5" fill="#f4d04a" stroke="#c89a1a" stroke-width="0.7"/>
<path d="M170.5,14Q177,20 183,14" fill="#f4d04a" stroke="#c89a1a" stroke-width="0.7"/>
<path d="M169,9.5Q177,12.5 185.5,8.5Q182,7 181.5,4.5Q177,2.5 173,4.5Q172.5,7.5 169,9.5Z" fill="#5b9fe0" stroke="#2f6fb8" stroke-width="0.8"/>
<circle cx="181.5" cy="15" r="4.2" fill="#e02a1a" stroke="#a01008" stroke-width="0.7"/>
<rect x="179.7" y="13.2" width="3.6" height="3.6" fill="#fff"/>
<rect x="245" y="1" width="1" height="21" fill="#a0a0a0" shape-rendering="crispEdges"/>
<rect x="249" y="1" width="3" height="1" fill="#b4b4b4" shape-rendering="crispEdges"/>
<rect x="249" y="3" width="3" height="1" fill="#b4b4b4" shape-rendering="crispEdges"/>
<rect x="249" y="5" width="3" height="1" fill="#b4b4b4" shape-rendering="crispEdges"/>
<rect x="249" y="7" width="3" height="1" fill="#b4b4b4" shape-rendering="crispEdges"/>
<rect x="249" y="9" width="3" height="1" fill="#b4b4b4" shape-rendering="crispEdges"/>
<rect x="249" y="11" width="3" height="1" fill="#b4b4b4" shape-rendering="crispEdges"/>
<rect x="249" y="13" width="3" height="1" fill="#b4b4b4" shape-rendering="crispEdges"/>
<rect x="249" y="15" width="3" height="1" fill="#b4b4b4" shape-rendering="crispEdges"/>
<rect x="249" y="17" width="3" height="1" fill="#b4b4b4" shape-rendering="crispEdges"/>
<rect x="249" y="19" width="3" height="1" fill="#b4b4b4" shape-rendering="crispEdges"/>
<path d="M263.5,5V19M261,16.5H274.5" stroke="#4a4a4a" stroke-width="1" fill="none" shape-rendering="crispEdges"/>
<path d="M262,7.5L263.5,5L265,7.5M272.5,15L274.5,16.5L272.5,18" stroke="#4a4a4a" stroke-width="1" fill="none"/>
<path d="M269.5,6V14M269.5,7H272M267,13H269.5" stroke="#18a018" stroke-width="1.4" fill="none" shape-rendering="crispEdges"/>
<rect x="283" y="0" width="26" height="21" fill="#f9f9f9"/>
<path d="M291.5,5V19M289,16.5H302.5" stroke="#4a4a4a" stroke-width="1" fill="none" shape-rendering="crispEdges"/>
<path d="M290,7.5L291.5,5L293,7.5M300.5,15L302.5,16.5L300.5,18" stroke="#4a4a4a" stroke-width="1" fill="none"/>
<rect x="296" y="5" width="4" height="8" fill="#2fd02f" stroke="#158a15" stroke-width="0.8"/><path d="M298,3V5M298,13V15.5" stroke="#158a15" stroke-width="1"/>
<path d="M319.5,5V19M317,16.5H330.5" stroke="#4a4a4a" stroke-width="1" fill="none" shape-rendering="crispEdges"/>
<path d="M318,7.5L319.5,5L321,7.5M328.5,15L330.5,16.5L328.5,18" stroke="#4a4a4a" stroke-width="1" fill="none"/>
<path d="M318.5,14Q323,6 326,8T330.5,12.5" fill="none" stroke="#18a018" stroke-width="1.2"/>
<rect x="340" y="1" width="1" height="20" fill="#a0a0a0" shape-rendering="crispEdges"/>
<path d="M358.5,12.5L364,18" stroke="#c8a020" stroke-width="3" stroke-linecap="round"/>
<path d="M358.5,12.5L364,18" stroke="#f0d060" stroke-width="1.2" stroke-linecap="round"/>
<circle cx="355" cy="8.5" r="5.3" fill="#d4e8fb" stroke="#3f7fd0" stroke-width="1.5"/>
<path d="M352,8.5H358" stroke="#2f6fc8" stroke-width="1.7"/>
<path d="M355,5.5V11.5" stroke="#2f6fc8" stroke-width="1.7"/>
<path d="M386.5,12.5L392,18" stroke="#c8a020" stroke-width="3" stroke-linecap="round"/>
<path d="M386.5,12.5L392,18" stroke="#f0d060" stroke-width="1.2" stroke-linecap="round"/>
<circle cx="383" cy="8.5" r="5.3" fill="#d4e8fb" stroke="#3f7fd0" stroke-width="1.5"/>
<path d="M380,8.5H386" stroke="#2f6fc8" stroke-width="1.7"/>
<rect x="405" y="3" width="7.5" height="7.5" rx="0.8" fill="#4aa82a"/>
<rect x="405" y="3" width="7.5" height="2" fill="#2f8a18"/>
<rect x="406.2" y="6.3" width="5.1" height="2.6" fill="#e8f0ff"/>
<rect x="413.5" y="3" width="7.5" height="7.5" rx="0.8" fill="#2a5fd8"/>
<rect x="413.5" y="3" width="7.5" height="2" fill="#1a44b0"/>
<rect x="414.7" y="6.3" width="5.1" height="2.6" fill="#e8f0ff"/>
<rect x="405" y="11.5" width="7.5" height="7.5" rx="0.8" fill="#2a5fd8"/>
<rect x="405" y="11.5" width="7.5" height="2" fill="#1a44b0"/>
<rect x="406.2" y="14.8" width="5.1" height="2.6" fill="#e8f0ff"/>
<rect x="413.5" y="11.5" width="7.5" height="7.5" rx="0.8" fill="#4aa82a"/>
<rect x="413.5" y="11.5" width="7.5" height="2" fill="#2f8a18"/>
<rect x="414.7" y="14.8" width="5.1" height="2.6" fill="#e8f0ff"/>
<rect x="430" y="1" width="1" height="20" fill="#a0a0a0" shape-rendering="crispEdges"/>
<rect x="435" y="0" width="25" height="21" fill="#f9f9f9"/>
<path d="M443.5,5V19M441,16.5H454.5" stroke="#4a4a4a" stroke-width="1" fill="none" shape-rendering="crispEdges"/>
<path d="M442,7.5L443.5,5L445,7.5M452.5,15L454.5,16.5L452.5,18" stroke="#4a4a4a" stroke-width="1" fill="none"/>
<path d="M448.5,7L452.5,10L448.5,13Z" fill="#5fd05f" stroke="#158a15" stroke-width="0.9"/>
<rect x="463" y="0" width="25" height="21" fill="#f9f9f9"/>
<path d="M471.5,5V19M469,16.5H482.5" stroke="#4a4a4a" stroke-width="1" fill="none" shape-rendering="crispEdges"/>
<path d="M470,7.5L471.5,5L473,7.5M480.5,15L482.5,16.5L480.5,18" stroke="#4a4a4a" stroke-width="1" fill="none"/>
<rect x="477" y="5" width="1.3" height="9.5" fill="#1f5fb8"/><path d="M483.5,10.5H479.5M481.5,8.5L479.3,10.5L481.5,12.5" stroke="#d84a10" stroke-width="1.2" fill="none"/>
<rect x="492" y="1" width="1" height="20" fill="#a0a0a0" shape-rendering="crispEdges"/>
<path d="M502.5,3.5H509.5L513.5,7.5V16.5H502.5Z" fill="#fff" stroke="#8a8a8a" stroke-width="1"/>
<path d="M509.5,3.5V7.5H513.5" fill="#e8e8e8" stroke="#8a8a8a" stroke-width="1"/>
<path d="M505.5,6V13M504.5,8H506.5M504.5,11H506.5" stroke="#555" stroke-width="0.8"/>
<path d="M510.8,9.500H514.2V13.200H517.8V16.600H514.2V20.300H510.8V16.600H507.2V13.200H510.8Z" fill="#2fd02f" stroke="#1a9a1a" stroke-width="0.8"/>
<polygon points="524,10 529.5,10 526.75,13.2" fill="#000"/>
<circle cx="548" cy="10.7" r="7.2" fill="#f4f8ff" stroke="#2a6fd8" stroke-width="2.2"/>
<circle cx="548" cy="10.7" r="8.2" fill="none" stroke="#1a4fb0" stroke-width="0.6"/>
<path d="M548,6.5V11H551.5" stroke="#444" stroke-width="1" fill="none"/>
<polygon points="563,10 568.5,10 565.75,13.2" fill="#000"/>
<rect x="579.5" y="4.500" width="15" height="13" fill="#fff" stroke="#3a6fc0" stroke-width="1"/>
<rect x="580" y="5" width="14" height="2.500" fill="#4a8fe0"/>
<path d="M581.5,10.5L584,10L586.5,9L589,9.5L592.500,8.5" stroke="#b02a10" stroke-width="1.1" fill="none"/>
<path d="M580,12.500H594" stroke="#3a6fc0" stroke-width="0.8"/>
<path d="M581.5,15.5L585,14.5L587.500,15.500L590.500,13.500L592.500,15" stroke="#18a018" stroke-width="1.1" fill="none"/>
<polygon points="602,10 607.5,10 604.75,13.2" fill="#000"/>
<rect x="613" y="0" width="1" height="23" fill="#a0a0a0" shape-rendering="crispEdges"/>
<rect x="617" y="1" width="3" height="1" fill="#b4b4b4" shape-rendering="crispEdges"/>
<rect x="617" y="3" width="3" height="1" fill="#b4b4b4" shape-rendering="crispEdges"/>
<rect x="617" y="5" width="3" height="1" fill="#b4b4b4" shape-rendering="crispEdges"/>
<rect x="617" y="7" width="3" height="1" fill="#b4b4b4" shape-rendering="crispEdges"/>
<rect x="617" y="9" width="3" height="1" fill="#b4b4b4" shape-rendering="crispEdges"/>
<rect x="617" y="11" width="3" height="1" fill="#b4b4b4" shape-rendering="crispEdges"/>
<rect x="617" y="13" width="3" height="1" fill="#b4b4b4" shape-rendering="crispEdges"/>
<rect x="617" y="15" width="3" height="1" fill="#b4b4b4" shape-rendering="crispEdges"/>
<rect x="617" y="17" width="3" height="1" fill="#b4b4b4" shape-rendering="crispEdges"/>
<rect x="617" y="19" width="3" height="1" fill="#b4b4b4" shape-rendering="crispEdges"/>
<rect x="622" y="1" width="1" height="20" fill="#a0a0a0" shape-rendering="crispEdges"/>
<rect x="623" y="0" width="25" height="21" fill="#f9f9f9"/>
<path d="M631.3,4L631.3,15.3L633.9,12.9L636.2,17.8L637.9,17L635.700,12.2L639.300,12.2Z" fill="#444"/>
<path d="M663.5,4V10M663.5,13V19M656,11.5H662M665,11.5H671" stroke="#444" stroke-width="1" shape-rendering="crispEdges"/>
<rect x="680" y="1" width="1" height="20" fill="#a0a0a0" shape-rendering="crispEdges"/>
<rect x="697" y="5" width="1" height="13" fill="#444" shape-rendering="crispEdges"/>
<rect x="720" y="11" width="12" height="1" fill="#444" shape-rendering="crispEdges"/>
<path d="M748,18L760.500,5.500" stroke="#444" stroke-width="1.1"/>
<path d="M774,12.5L786.600,3.700M776.600,16.900L788,8.700M777,8L780,17M780.500,6L783.500,15M784,4L787,12M786.500,3V10" stroke="#444" stroke-width="0.85" fill="none"/>
<text x="785" y="20" font-size="7.500" font-weight="bold" fill="#333">E</text>
<path d="M803,4.5H816" stroke="#444" stroke-width="1" stroke-dasharray="1,1" shape-rendering="crispEdges"/>
<path d="M803,8.5H816" stroke="#444" stroke-width="1" stroke-dasharray="1,1" shape-rendering="crispEdges"/>
<path d="M803,12.5H816" stroke="#444" stroke-width="1" stroke-dasharray="1,1" shape-rendering="crispEdges"/>
<path d="M803,16.5H811" stroke="#444" stroke-width="1" stroke-dasharray="1,1" shape-rendering="crispEdges"/>
<text x="812.500" y="20" font-size="7.500" font-weight="bold" fill="#333">F</text>
<text x="833.500" y="16" font-size="13" font-weight="bold" fill="#666">A</text>
<rect x="859.500" y="5.500" width="12" height="12" fill="none" stroke="#555" stroke-width="1" stroke-dasharray="1,1" shape-rendering="crispEdges"/>
<text x="862" y="16" font-size="11.500" font-weight="bold" fill="#666">T</text>
<path d="M890,5L893,8L890,11L887,8Z" fill="#444"/><path d="M897.500,12L901,15L897.500,18L894,15Z" fill="#444"/><path d="M889.500,12L892,14.500L897,8.500" stroke="#444" stroke-width="1.3" fill="none"/>
<polygon points="908,10 913.5,10 910.75,13.2" fill="#000"/>
<rect x="919" y="0" width="1" height="23" fill="#a0a0a0" shape-rendering="crispEdges"/>
<rect x="923" y="1" width="3" height="1" fill="#b4b4b4" shape-rendering="crispEdges"/>
<rect x="923" y="3" width="3" height="1" fill="#b4b4b4" shape-rendering="crispEdges"/>
<rect x="923" y="5" width="3" height="1" fill="#b4b4b4" shape-rendering="crispEdges"/>
<rect x="923" y="7" width="3" height="1" fill="#b4b4b4" shape-rendering="crispEdges"/>
<rect x="923" y="9" width="3" height="1" fill="#b4b4b4" shape-rendering="crispEdges"/>
<rect x="923" y="11" width="3" height="1" fill="#b4b4b4" shape-rendering="crispEdges"/>
<rect x="923" y="13" width="3" height="1" fill="#b4b4b4" shape-rendering="crispEdges"/>
<rect x="923" y="15" width="3" height="1" fill="#b4b4b4" shape-rendering="crispEdges"/>
<rect x="923" y="17" width="3" height="1" fill="#b4b4b4" shape-rendering="crispEdges"/>
<rect x="923" y="19" width="3" height="1" fill="#b4b4b4" shape-rendering="crispEdges"/>
<rect x="1069" y="0" width="26" height="21" fill="#f9f9f9"/><rect x="1069" y="0" width="1" height="21" fill="#909090"/>
<text transform="translate(934.5,15) scale(0.93,1)" font-size="10" fill="#3c3c3c">M1</text>
<text transform="translate(962.5,15) scale(0.93,1)" font-size="10" fill="#3c3c3c">M5</text>
<text transform="translate(988.5,15) scale(0.93,1)" font-size="10" fill="#3c3c3c">M15</text>
<text transform="translate(1016.5,15) scale(0.93,1)" font-size="10" fill="#3c3c3c">M30</text>
<text transform="translate(1047,15) scale(0.93,1)" font-size="10" fill="#3c3c3c">H1</text>
<text transform="translate(1074.5,15) scale(0.93,1)" font-size="10" fill="#3c3c3c">H4</text>
<text transform="translate(1103.5,15) scale(0.93,1)" font-size="10" fill="#3c3c3c">D1</text>
<text transform="translate(1130.5,15) scale(0.93,1)" font-size="10" fill="#3c3c3c">W1</text>
<text transform="translate(1157.5,15) scale(0.93,1)" font-size="10" fill="#3c3c3c">MN</text>
<rect x="1180" y="0" width="1" height="23" fill="#a0a0a0" shape-rendering="crispEdges"/>
<path d="M1647,12L1643,16" stroke="#2a5fd0" stroke-width="3" stroke-linecap="round"/>
<circle cx="1650.400" cy="8.400" r="3.900" fill="#f2f2ff" stroke="#2a5fd0" stroke-width="1.400"/>
<ellipse cx="1672.500" cy="13" rx="5.500" ry="4.500" fill="#dedee8" stroke="#a8a8a8" stroke-width="1"/>
<path d="M1669.500,16.500L1670.500,19.500L1673,17Z" fill="#c8c8d0" stroke="#a0a0a0" stroke-width="0.600"/>
<defs><linearGradient id="bg1" x1="0" y1="0" x2="0" y2="1"><stop offset="0" stop-color="#e9603f"/><stop offset="1" stop-color="#dc1400"/></linearGradient></defs>
<circle cx="1681.400" cy="8.400" r="8.400" fill="url(#bg1)"/>
<text x="1681.400" y="13.200" font-size="13" font-weight="bold" fill="#fff" text-anchor="middle" font-family="'Liberation Serif',serif">1</text>
<text x="37" y="14.5" font-size="12.3" fill="#000" font-family='"Liberation Sans", "Noto Sans CJK SC", sans-serif'>新订单</text>
<text x="190" y="14.5" font-size="12" fill="#000" font-family='"Liberation Sans", "Noto Sans CJK SC", sans-serif'>自动交易</text>
</svg>
</body></html>
